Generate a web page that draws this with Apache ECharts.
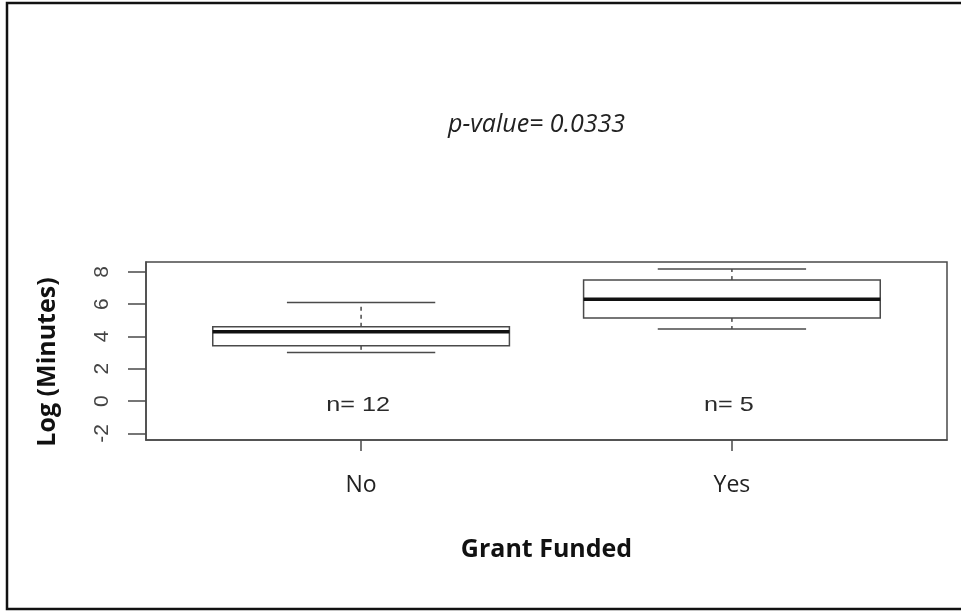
<!DOCTYPE html>
<html>
<head>
<meta charset="utf-8">
<script src="https://cdn.jsdelivr.net/npm/echarts@6/dist/echarts.min.js"></script>
<style>html,body{margin:0;padding:0;background:#fff}#c{width:961px;height:611px}</style>
</head>
<body>
<div id="c"></div>
<script>
// ---- data ----
const categories = ['No', 'Yes'];
const categoryPos = [1, 2];
// [low whisker, Q1, median, Q3, high whisker]
const boxNo = [3.01, 3.42, 4.29, 4.60, 6.11];
const boxYes = [4.46, 5.15, 6.31, 7.49, 8.17];
const nLabels = ['n= 12', 'n= 5'];
const yTicks = [-2, 0, 2, 4, 6, 8];
const pValueText = 'p-value= 0.0333';

const boxes = [boxNo, boxYes];
const seriesData = boxes.map((b, i) => [categoryPos[i]].concat(b));

const chart = echarts.init(document.getElementById('c'), null, {renderer: 'canvas'});
const lineCol = '#4a4a4a';

function renderItem(params, api) {
  const x = api.value(0);
  const lo = api.coord([x, api.value(1)]);
  const q1 = api.coord([x, api.value(2)]);
  const md = api.coord([x, api.value(3)]);
  const q3 = api.coord([x, api.value(4)]);
  const hi = api.coord([x, api.value(5)]);
  const zero = api.coord([x, 0]);
  const halfW = api.size([0.8, 0])[0] / 2;
  const capW = halfW / 2;
  const cx = md[0];
  return {
    type: 'group',
    children: [
      {type: 'line', shape: {x1: cx, y1: q3[1], x2: cx, y2: hi[1]}, style: {stroke: lineCol, lineWidth: 1.5, lineDash: [4, 4]}},
      {type: 'line', shape: {x1: cx, y1: q1[1], x2: cx, y2: lo[1]}, style: {stroke: lineCol, lineWidth: 1.5, lineDash: [4, 4]}},
      {type: 'line', shape: {x1: cx - capW, y1: hi[1], x2: cx + capW, y2: hi[1]}, style: {stroke: lineCol, lineWidth: 1.5}},
      {type: 'line', shape: {x1: cx - capW, y1: lo[1], x2: cx + capW, y2: lo[1]}, style: {stroke: lineCol, lineWidth: 1.5}},
      {type: 'rect', shape: {x: cx - halfW, y: q3[1], width: 2 * halfW, height: q1[1] - q3[1]}, style: {fill: '#fff', stroke: lineCol, lineWidth: 1.5}},
      {type: 'line', shape: {x1: cx - halfW, y1: md[1], x2: cx + halfW, y2: md[1]}, style: {stroke: '#111', lineWidth: 3.5}},
      {type: 'text', x: cx - 3, y: zero[1] + 4, scaleX: 1.2,
        style: {text: nLabels[params.dataIndex], fill: '#2a2a2a', font: '21px "Liberation Sans", Arial, sans-serif', align: 'center', verticalAlign: 'middle'}}
    ]
  };
}

chart.setOption({
  animation: false,
  backgroundColor: '#fff',
  title: {
    text: pValueText,
    left: 443, top: 107,
    textStyle: {fontFamily: '"Open Sans", sans-serif', fontStyle: 'italic', fontWeight: 'normal', fontSize: 25, color: '#222'}
  },
  graphic: [{
    type: 'rect', shape: {x: 7, y: 3, width: 990, height: 606},
    style: {fill: 'none', stroke: '#111', lineWidth: 2.5}, silent: true
  }],
  grid: {left: 146, right: 14, top: 262, bottom: 171, show: true, borderColor: lineCol, borderWidth: 1.5, containLabel: false},
  xAxis: {
    type: 'value', min: 0.42, max: 2.58,
    name: 'Grant Funded', nameLocation: 'middle', nameGap: 97,
    nameTextStyle: {fontFamily: '"Open Sans", sans-serif', fontWeight: 'bold', fontSize: 25, color: '#111'},
    axisLine: {show: true, onZero: false, lineStyle: {color: lineCol, width: 1.5}},
    axisTick: {show: true, length: 11, customValues: categoryPos, lineStyle: {color: lineCol, width: 1.5}},
    axisLabel: {
      customValues: categoryPos, margin: 34,
      fontFamily: '"Open Sans", sans-serif', fontSize: 23, color: '#222',
      formatter: v => categories[categoryPos.indexOf(Math.round(v))] || ''
    },
    splitLine: {show: false}
  },
  yAxis: {
    type: 'value', min: -2.41, max: 8.61,
    name: 'Log (Minutes)', nameLocation: 'middle', nameGap: 86,
    nameTextStyle: {fontFamily: '"Open Sans", sans-serif', fontWeight: 'bold', fontSize: 25, color: '#111', padding: [0, 22, 0, 0]},
    axisLine: {show: true, onZero: false, lineStyle: {color: lineCol, width: 1.5}},
    axisTick: {show: true, length: 18, customValues: yTicks, lineStyle: {color: lineCol, width: 1.5}},
    axisLabel: {
      customValues: yTicks, rotate: 90, margin: 33,
      fontFamily: '"Liberation Sans", Arial, sans-serif', fontSize: 21, color: '#444'
    },
    splitLine: {show: false}
  },
  series: [{
    type: 'custom',
    renderItem: renderItem,
    data: seriesData,
    encode: {x: 0, y: [1, 2, 3, 4, 5]},
    clip: false
  }]
});
</script>
</body>
</html>
